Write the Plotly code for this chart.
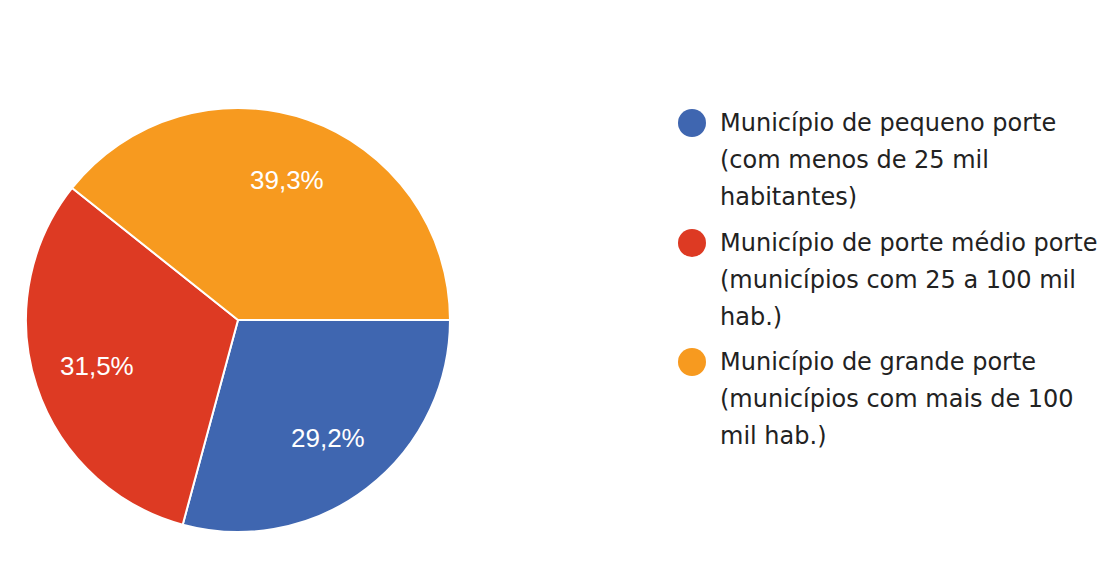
import math
import plotly.graph_objects as go

categories = [
    "Município de pequeno porte (com menos de 25 mil habitantes)",
    "Município de porte médio porte (municípios com 25 a 100 mil hab.)",
    "Município de grande porte (municípios com mais de 100 mil hab.)",
]
values = [29.2, 31.5, 39.3]
legend_lines = [
    ["Município de pequeno porte", "(com menos de 25 mil", "habitantes)"],
    ["Município de porte médio porte", "(municípios com 25 a 100 mil", "hab.)"],
    ["Município de grande porte", "(municípios com mais de 100", "mil hab.)"],
]
colors = ["#3F66B0", "#DD3A23", "#F79A1F"]

OFF = 8  # page body margin
W, H = 1110 - 2 * OFF, 563 - 2 * OFF
cx, cy, R = 238 - OFF, 320 - OFF, 212

fig = go.Figure()
fig.add_trace(go.Pie(
    labels=categories, values=values, sort=False, direction="clockwise",
    rotation=90, marker=dict(colors=colors, line=dict(color="white", width=2)),
    textinfo="none",
    domain=dict(x=[(cx - R) / W, (cx + R) / W], y=[(H - cy - R) / H, (H - cy + R) / H]),
    showlegend=False, hoverinfo="label+percent",
))

shapes = []
annotations = []

# percentage labels placed along each slice's mid-angle
total = sum(values)
cum = 0.0
for v in values:
    mid = (cum + v / 2) / total * 2 * math.pi  # clockwise from east
    cum += v
    px = cx + 0.7 * R * math.cos(mid)
    py = cy + 0.7 * R * math.sin(mid)
    pct = f"{v / total * 100:.1f}".replace(".", ",") + "%"
    annotations.append(dict(text=pct, xref="paper", yref="paper",
                            x=px / W, y=1 - py / H, xanchor="center", yanchor="middle",
                            showarrow=False,
                            font=dict(size=26, color="white", family="Liberation Sans")))

item_y0 = [123 - OFF, 243 - OFF, 362 - OFF]
line_gap = 37
for i, lines in enumerate(legend_lines):
    yc = item_y0[i]
    r = 14
    shapes.append(dict(type="circle", xref="paper", yref="paper",
                       x0=(692 - OFF - r) / W, x1=(692 - OFF + r) / W,
                       y0=1 - (yc + r) / H, y1=1 - (yc - r) / H,
                       fillcolor=colors[i], line=dict(width=0)))
    for j, t in enumerate(lines):
        annotations.append(dict(text=t, xref="paper", yref="paper",
                                x=(718 - OFF) / W, y=1 - (yc + j * line_gap) / H,
                                xanchor="left", yanchor="middle", showarrow=False,
                                font=dict(size=24, color="#222222", family="DejaVu Sans")))

fig.update_layout(
    width=W, height=H, margin=dict(l=0, r=0, t=0, b=0),
    paper_bgcolor="white", plot_bgcolor="white", separators=",.",
    shapes=shapes, annotations=annotations,
)
fig.write_html("out.html")
